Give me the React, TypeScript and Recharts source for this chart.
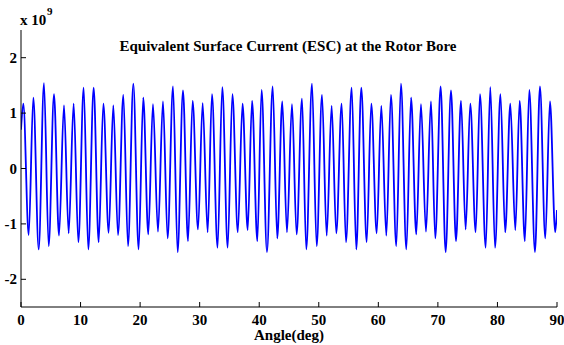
import { LineChart, Line, XAxis, YAxis } from 'recharts';

// peak / trough positions (angle in deg, ESC in units of 1e9)
const angles = [
  0, 0.39, 1.29, 2.07, 2.97, 3.86, 4.65, 5.54, 6.38, 7.22, 8.0, 8.84, 9.63, 10.52, 11.3, 12.2,
  13.04, 13.83, 14.72, 15.5, 16.29, 17.18, 17.97, 18.86, 19.75, 20.53, 21.37, 22.16, 23.0, 23.84,
  24.62, 25.52, 26.3, 27.2, 28.04, 28.82, 29.72, 30.5, 31.34, 32.07, 33.0, 33.8, 34.7, 35.5,
  36.4, 37.2, 38.06, 38.8, 39.68, 40.4, 41.3, 42.26, 43.03, 43.87, 44.66, 45.5, 46.28, 47.18,
  47.9, 48.86, 49.65, 50.54, 51.33, 52.16, 52.94, 53.84, 54.57, 55.52, 56.3, 57.14, 58.04, 58.82,
  59.72, 60.5, 61.34, 62.12, 63.01, 63.8, 64.7, 65.5, 66.37, 67.16, 68.0, 68.84, 69.56, 70.46,
  71.3, 72.2, 73.04, 73.88, 74.66, 75.44, 76.34, 77.07, 78.02, 78.8, 79.6, 80.5, 81.3, 82.16,
  83.0, 83.73, 84.6, 85.35, 86.3, 87.14, 88.03, 88.82, 89.7, 90,
];
const esc = [
  0.7, 1.17, -1.2, 1.28, -1.46, 1.54, -1.4, 1.34, -1.21, 1.14, -1.17, 1.17, -1.33, 1.46, -1.46, 1.46,
  -1.33, 1.17, -1.16, 1.14, -1.2, 1.33, -1.4, 1.53, -1.46, 1.28, -1.19, 1.16, -1.14, 1.21,
  -1.26, 1.48, -1.51, 1.41, -1.31, 1.22, -1.1, 1.18, -1.15, 1.34, -1.43, 1.47, -1.43, 1.34,
  -1.15, 1.17, -1.11, 1.22, -1.31, 1.42, -1.51, 1.48, -1.26, 1.21, -1.15, 1.16, -1.19, 1.26,
  -1.46, 1.53, -1.4, 1.33, -1.21, 1.13, -1.17, 1.17, -1.33, 1.46, -1.46, 1.46, -1.33, 1.17,
  -1.17, 1.13, -1.21, 1.33, -1.4, 1.53, -1.46, 1.28, -1.19, 1.16, -1.14, 1.21, -1.26, 1.48,
  -1.51, 1.41, -1.31, 1.22, -1.1, 1.17, -1.15, 1.34, -1.43, 1.47, -1.43, 1.34, -1.15, 1.17,
  -1.11, 1.22, -1.31, 1.42, -1.51, 1.48, -1.26, 1.21, -1.15, -0.75,
];
const xTicks = [0, 10, 20, 30, 40, 50, 60, 70, 80, 90];
const yTicks = [-2, -1, 0, 1, 2];

const rows = angles.map((a, i) => ({ angle: a, esc: esc[i] }));

const font = '"Liberation Serif", "Times New Roman", serif';
const TICK = 5;

function BottomTick({ x, y, payload }: any) {
  return (
    <g>
      <line x1={x} y1={y} x2={x} y2={y - TICK} stroke="#000" />
      <text x={x} y={y + 18} textAnchor="middle" fontFamily={font} fontWeight="bold" fontSize={15} fill="#000">
        {payload.value}
      </text>
    </g>
  );
}
function TopTick({ x, y }: any) {
  return <line x1={x} y1={y} x2={x} y2={y + TICK} stroke="#000" />;
}
function LeftTick({ x, y, payload }: any) {
  return (
    <g>
      <line x1={x} y1={y} x2={x + TICK} y2={y} stroke="#000" />
      <text x={x - 4} y={y + 5} textAnchor="end" fontFamily={font} fontWeight="bold" fontSize={15} fill="#000">
        {payload.value}
      </text>
    </g>
  );
}
function RightTick({ x, y }: any) {
  return <line x1={x} y1={y} x2={x - TICK} y2={y} stroke="#000" />;
}

export default function App() {
  return (
    <div style={{ position: 'absolute', left: 0, top: 0, width: 564, height: 345, background: '#fff' }}>
      <LineChart width={564} height={345} data={rows} margin={{ top: 30, right: 7, bottom: 0, left: 0 }}>
        <XAxis
          dataKey="angle" type="number" domain={[0, 90]} ticks={xTicks} interval={0}
          height={38} tickSize={0} tickMargin={0} tick={BottomTick} stroke="#000" allowDataOverflow
        />
        <XAxis
          xAxisId="top" orientation="top" dataKey="angle" type="number" domain={[0, 90]} ticks={xTicks}
          interval={0} height={0} tickSize={0} tickMargin={0} tick={TopTick} stroke="#000"
        />
        <YAxis
          type="number" domain={[-2.5, 2.5]} ticks={yTicks} interval={0} width={21}
          tickSize={0} tickMargin={0} tick={LeftTick} stroke="#000" allowDataOverflow
        />
        <YAxis
          yAxisId="right" orientation="right" type="number" domain={[-2.5, 2.5]} ticks={yTicks}
          interval={0} width={0} tickSize={0} tickMargin={0} tick={RightTick} stroke="#000"
        />
        <Line type="monotone" dataKey="esc" stroke="#0000ff" strokeWidth={1.8} dot={false} isAnimationActive={false} />
      </LineChart>
      <svg width={564} height={345} style={{ position: 'absolute', left: 0, top: 0, pointerEvents: 'none' }}>
        <text x={20} y={25} fontFamily={font} fontWeight="bold" fontSize={15} fill="#000">x 10</text>
        <text x={47} y={15} fontFamily={font} fontWeight="bold" fontSize={11} fill="#000">9</text>
        <text x={288} y={51} textAnchor="middle" fontFamily={font} fontWeight="bold" fontSize={15} fill="#000">
          Equivalent Surface Current (ESC) at the Rotor Bore
        </text>
        <text x={289} y={340} textAnchor="middle" fontFamily={font} fontWeight="bold" fontSize={15} fill="#000">
          Angle(deg)
        </text>
      </svg>
    </div>
  );
}
